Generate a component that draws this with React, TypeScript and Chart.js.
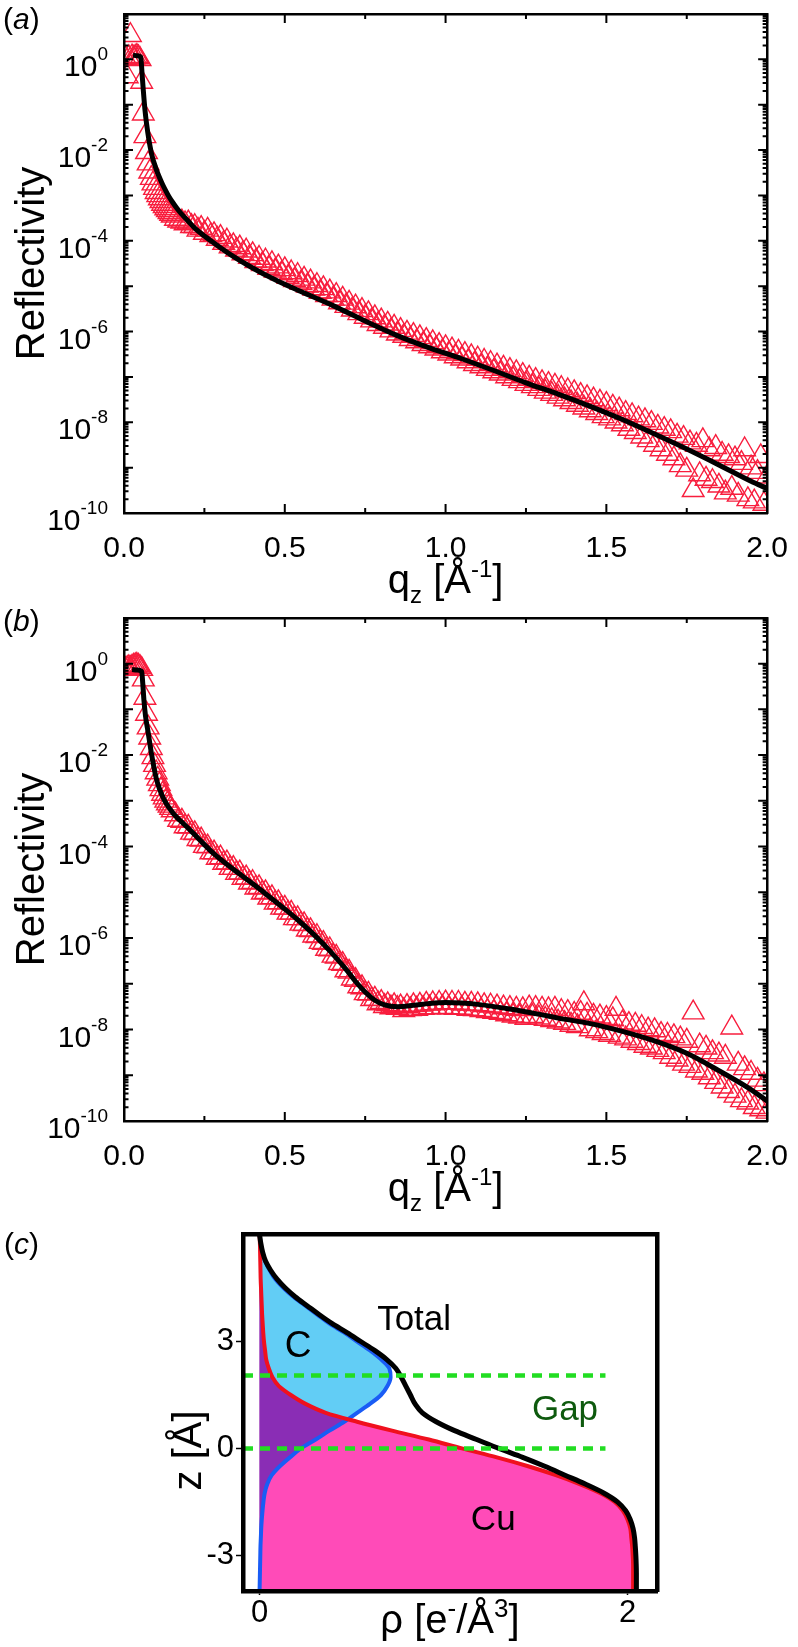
import React, { useEffect, useRef } from 'react';
import { Chart, registerables } from 'chart.js';

Chart.register(...registerables);

const FONT = "'Liberation Sans', Arial, Helvetica, sans-serif";
Chart.defaults.font.family = FONT;
Chart.defaults.color = '#000';

const TRI_COLOR = '#F81E3E';
const PINK = '#FF4BB8';
const CYAN = '#62CDF5';
const PURPLE = '#8A2DB5';
const RED = '#F0101E';
const BLUE = '#1A5CF5';
const GREEN = '#22DD22';
const GAP_GREEN = '#0E5A0E';

// ---------- panels (a) and (b): measured q grid [1/Å] ----------
const qData = [
  0.005, 0.01, 0.015, 0.02, 0.025, 0.03, 0.035, 0.04, 0.045, 0.05,
  0.055, 0.06, 0.065, 0.07, 0.075, 0.08, 0.085, 0.09, 0.095, 0.1,
  0.105, 0.11, 0.115, 0.12, 0.125, 0.13, 0.135, 0.14, 0.145, 0.15,
  0.16, 0.17, 0.18, 0.19, 0.2, 0.21, 0.22, 0.23, 0.24, 0.25,
  0.26, 0.27, 0.28, 0.29, 0.3, 0.31, 0.32, 0.33, 0.34, 0.35,
  0.36, 0.37, 0.38, 0.39, 0.4, 0.41, 0.42, 0.43, 0.44, 0.45,
  0.46, 0.47, 0.48, 0.49, 0.5, 0.51, 0.52, 0.53, 0.54, 0.55,
  0.56, 0.57, 0.58, 0.59, 0.6, 0.61, 0.62, 0.63, 0.64, 0.65,
  0.66, 0.67, 0.68, 0.69, 0.7, 0.71, 0.72, 0.73, 0.74, 0.75,
  0.76, 0.77, 0.78, 0.79, 0.8, 0.81, 0.82, 0.83, 0.84, 0.85,
  0.86, 0.87, 0.88, 0.89, 0.9, 0.91, 0.92, 0.93, 0.94, 0.95,
  0.96, 0.97, 0.98, 0.99, 1.0, 1.01, 1.02, 1.03, 1.04, 1.05,
  1.06, 1.07, 1.08, 1.09, 1.1, 1.11, 1.12, 1.13, 1.14, 1.15,
  1.16, 1.17, 1.18, 1.19, 1.2, 1.21, 1.22, 1.23, 1.24, 1.25,
  1.26, 1.27, 1.28, 1.29, 1.3, 1.31, 1.32, 1.33, 1.34, 1.35,
  1.36, 1.37, 1.38, 1.39, 1.4, 1.41, 1.42, 1.43, 1.44, 1.45,
  1.46, 1.47, 1.48, 1.49, 1.5, 1.51, 1.52, 1.53, 1.54, 1.55,
  1.56, 1.57, 1.58, 1.59, 1.6, 1.61, 1.62, 1.63, 1.64, 1.65,
  1.66, 1.67, 1.68, 1.69, 1.7, 1.71, 1.72, 1.73, 1.74, 1.75,
  1.76, 1.77, 1.78, 1.79, 1.8, 1.81, 1.82, 1.83, 1.84, 1.85,
  1.86, 1.87, 1.88, 1.89, 1.9, 1.91, 1.92, 1.93, 1.94, 1.95,
  1.96, 1.97, 1.98, 1.99, 2.0,
];

const logReflA = [
  0.02, -0.38, 0.04, 0.53, 0.06, 0.03, 0.05, 0.07, 0.04, 0.0,
  -0.5, -1.2, -1.7, -2.05, -2.3, -2.48, -2.62, -2.74, -2.84, -2.93,
  -3.0, -3.07, -3.13, -3.19, -3.24, -3.29, -3.33, -3.37, -3.41, -3.45,
  -3.52, -3.56, -3.58, -3.62, -3.6, -3.68, -3.68, -3.76, -3.72, -3.83,
  -3.76, -3.88, -3.86, -3.96, -3.92, -4.05, -4.0, -4.13, -4.1, -4.2,
  -4.15, -4.28, -4.22, -4.36, -4.3, -4.45, -4.38, -4.52, -4.44, -4.6,
  -4.5, -4.66, -4.57, -4.72, -4.63, -4.8, -4.7, -4.87, -4.76, -4.93,
  -4.84, -4.99, -4.9, -5.06, -4.98, -5.13, -5.05, -5.2, -5.12, -5.28,
  -5.2, -5.36, -5.28, -5.44, -5.37, -5.52, -5.45, -5.6, -5.53, -5.68,
  -5.6, -5.76, -5.69, -5.84, -5.76, -5.9, -5.83, -5.98, -5.9, -6.05,
  -5.97, -6.1, -6.03, -6.17, -6.08, -6.22, -6.13, -6.28, -6.19, -6.33,
  -6.24, -6.38, -6.3, -6.44, -6.35, -6.49, -6.4, -6.55, -6.45, -6.6,
  -6.5, -6.66, -6.55, -6.72, -6.6, -6.77, -6.65, -6.83, -6.7, -6.88,
  -6.75, -6.93, -6.8, -6.99, -6.85, -7.05, -6.9, -7.1, -6.96, -7.16,
  -7.02, -7.21, -7.07, -7.27, -7.12, -7.33, -7.16, -7.38, -7.2, -7.44,
  -7.25, -7.5, -7.3, -7.56, -7.34, -7.62, -7.4, -7.68, -7.45, -7.74,
  -7.5, -7.8, -7.55, -7.87, -7.6, -7.92, -7.66, -7.99, -7.72, -8.05,
  -7.8, -8.15, -7.85, -8.22, -7.92, -8.32, -7.96, -8.4, -8.02, -8.5,
  -8.1, -8.6, -8.15, -8.7, -8.2, -8.8, -8.3, -8.95, -8.35, -9.05,
  -8.45, -9.5, -8.5, -9.15, -8.4, -9.25, -8.6, -9.3, -8.55, -9.4,
  -8.7, -9.55, -8.75, -9.45, -8.8, -9.6, -8.9, -8.6, -9.7, -9.0,
  -9.75, -9.1, -8.75, -9.8, -9.2,
];

// measured reflectivity, panel (b), as log10(R)
const logReflB = [
  -0.12, -0.1, -0.08, -0.1, -0.07, -0.05, -0.04, -0.03, -0.05, -0.08,
  -0.12, -0.35, -0.75, -1.1, -1.4, -1.62, -1.85, -2.05, -2.22, -2.38,
  -2.52, -2.64, -2.75, -2.85, -2.93, -3.0, -3.06, -3.11, -3.16, -3.21,
  -3.3, -3.42, -3.44, -3.56, -3.57, -3.7, -3.71, -3.84, -3.85, -3.99,
  -4.0, -4.13, -4.13, -4.25, -4.24, -4.36, -4.35, -4.47, -4.47, -4.58,
  -4.57, -4.69, -4.68, -4.79, -4.78, -4.9, -4.89, -5.01, -5.0, -5.12,
  -5.11, -5.23, -5.22, -5.34, -5.34, -5.45, -5.45, -5.57, -5.57, -5.69,
  -5.7, -5.82, -5.83, -5.95, -5.96, -6.09, -6.11, -6.24, -6.25, -6.39,
  -6.41, -6.55, -6.57, -6.71, -6.74, -6.89, -6.92, -7.06, -7.08, -7.21,
  -7.22, -7.34, -7.33, -7.43, -7.4, -7.49, -7.45, -7.52, -7.47, -7.53,
  -7.5, -7.58, -7.49, -7.56, -7.47, -7.55, -7.46, -7.53, -7.44, -7.52,
  -7.43, -7.52, -7.42, -7.51, -7.41, -7.52, -7.42, -7.53, -7.42, -7.53,
  -7.44, -7.55, -7.44, -7.56, -7.45, -7.58, -7.47, -7.6, -7.48, -7.62,
  -7.5, -7.64, -7.52, -7.67, -7.53, -7.7, -7.55, -7.72, -7.56, -7.75,
  -7.52, -7.71, -7.53, -7.74, -7.55, -7.77, -7.56, -7.8, -7.55, -7.83,
  -7.6, -7.86, -7.62, -7.9, -7.66, -7.93, -7.64, -7.43, -7.68, -8.0,
  -7.7, -8.04, -7.72, -8.08, -7.75, -8.12, -7.78, -7.55, -8.16, -7.85,
  -8.2, -7.88, -8.25, -7.9, -8.3, -7.95, -8.36, -8.0, -8.4, -8.02,
  -8.45, -8.1, -8.5, -8.12, -8.6, -8.15, -8.66, -8.2, -8.75, -8.25,
  -8.8, -7.63, -8.9, -8.35, -8.95, -8.4, -9.05, -8.5, -9.15, -8.55,
  -9.25, -8.6, -9.35, -7.96, -9.45, -8.75, -9.55, -8.85, -9.6, -8.95,
  -9.7, -9.1, -9.75, -9.2, -9.8,
];

// model fits (black lines), log10(R)
const qFitA = [0.028, 0.04, 0.052, 0.056, 0.06, 0.065, 0.07, 0.078, 0.085, 0.09, 0.095, 0.1, 0.11, 0.12, 0.13, 0.14, 0.15, 0.165, 0.18, 0.2, 0.22, 0.27, 0.33, 0.4, 0.47, 0.55, 0.65, 0.75, 0.85, 0.95, 1.05, 1.15, 1.25, 1.35, 1.45, 1.55, 1.65, 1.75, 1.85, 1.95, 2.0];
const logFitA = [0.09, 0.08, 0.05, -0.3, -0.68, -1.1, -1.41, -1.8, -2.06, -2.2, -2.31, -2.42, -2.6, -2.76, -2.9, -3.03, -3.14, -3.29, -3.42, -3.57, -3.72, -4.0, -4.3, -4.6, -4.86, -5.12, -5.43, -5.77, -6.09, -6.36, -6.6, -6.86, -7.13, -7.38, -7.65, -7.94, -8.26, -8.59, -8.94, -9.3, -9.46];

const qFitB = [0.025, 0.04, 0.055, 0.058, 0.062, 0.067, 0.075, 0.085, 0.1, 0.111, 0.125, 0.14, 0.155, 0.173, 0.2, 0.235, 0.28, 0.337, 0.39, 0.44, 0.49, 0.54, 0.59, 0.64, 0.69, 0.72, 0.75, 0.78, 0.81, 0.85, 0.9, 0.95, 1.0, 1.05, 1.1, 1.2, 1.3, 1.35, 1.45, 1.55, 1.65, 1.75, 1.85, 1.94, 2.0];
const logFitB = [-0.13, -0.14, -0.17, -0.4, -0.8, -1.15, -1.5, -1.95, -2.5, -2.75, -2.98, -3.15, -3.29, -3.42, -3.6, -3.85, -4.16, -4.48, -4.76, -5.03, -5.31, -5.6, -5.92, -6.28, -6.68, -6.95, -7.18, -7.36, -7.46, -7.5, -7.47, -7.43, -7.41, -7.42, -7.45, -7.55, -7.68, -7.75, -7.87, -8.04, -8.25, -8.52, -8.9, -9.27, -9.56];

const xTickLabels = ['0.0', '0.5', '1.0', '1.5', '2.0'];
const yLabelExponents = [0, -2, -4, -6, -8, -10];
const logMantissas = [1, 2, 3, 4, 5, 6, 7, 8, 9];

// ---------- panel (c): electron density profile ----------
const zProfile = [-4, -3.75, -3.5, -3.25, -3, -2.75, -2.5, -2.25, -2, -1.75, -1.5, -1.25, -1, -0.75, -0.5, -0.25, 0, 0.25, 0.5, 0.75, 1, 1.25, 1.5, 1.75, 2, 2.25, 2.5, 2.75, 3, 3.25, 3.5, 3.75, 4, 4.25, 4.5, 4.75, 5, 5.25, 5.5, 5.75, 6];
const rhoCu = [2.03, 2.03, 2.03, 2.03, 2.028, 2.025, 2.02, 2.015, 2.0, 1.975, 1.93, 1.85, 1.74, 1.61, 1.46, 1.29, 1.1, 0.92, 0.72, 0.53, 0.36, 0.25, 0.17, 0.105, 0.07, 0.05, 0.036, 0.03, 0.024, 0.02, 0.017, 0.014, 0.012, 0.01, 0.008, 0.006, 0.005, 0.004, 0.003, 0.002, 0.0];
const rhoC = [0.0, 0.001, 0.002, 0.003, 0.004, 0.005, 0.007, 0.009, 0.012, 0.016, 0.021, 0.028, 0.042, 0.066, 0.11, 0.165, 0.225, 0.305, 0.38, 0.46, 0.53, 0.6, 0.66, 0.695, 0.712, 0.705, 0.66, 0.6, 0.53, 0.46, 0.38, 0.315, 0.25, 0.185, 0.13, 0.085, 0.055, 0.03, 0.015, 0.006, 0.0];
const rhoTotal = [2.048, 2.048, 2.048, 2.047, 2.045, 2.042, 2.038, 2.03, 2.015, 1.99, 1.945, 1.87, 1.77, 1.66, 1.55, 1.43, 1.3, 1.18, 1.06, 0.96, 0.885, 0.845, 0.82, 0.795, 0.77, 0.74, 0.69, 0.625, 0.55, 0.475, 0.395, 0.325, 0.26, 0.195, 0.14, 0.095, 0.06, 0.033, 0.017, 0.007, 0.0];
const zGapLines = [2.05, 0];
const gapRhoRange = [-0.09, 1.88];
const zTicksC = [-3, 0, 3];
const rhoTicksC = [0, 2];
const profileLabels = [
  { text: 'Total', rho: 0.84, z: 3.33, color: '#000', size: 35 },
  { text: 'C', rho: 0.21, z: 2.56, color: '#000', size: 37 },
  { text: 'Gap', rho: 1.66, z: 0.8, color: GAP_GREEN, size: 35 },
  { text: 'Cu', rho: 1.27, z: -2.3, color: '#000', size: 35 },
];

// ---------- helpers ----------
type Run = { t: string; s: number; dy?: number; italic?: boolean };
const fontStr = (r: Run) => `${r.italic ? 'italic ' : ''}${r.s}px ${FONT}`;

function drawRuns(ctx: CanvasRenderingContext2D, runs: Run[], x: number, y: number, align: 'left' | 'center' | 'right') {
  let total = 0;
  const ws = runs.map((r) => {
    ctx.font = fontStr(r);
    const w = ctx.measureText(r.t).width;
    total += w;
    return w;
  });
  let cx = align === 'center' ? x - total / 2 : align === 'right' ? x - total : x;
  ctx.textAlign = 'left';
  ctx.textBaseline = 'alphabetic';
  runs.forEach((r, i) => {
    ctx.font = fontStr(r);
    ctx.fillText(r.t, cx, y + (r.dy || 0));
    cx += ws[i];
  });
}

function reflDecor(letter: string, letterBaseline: number, titleBaseline: number) {
  return {
    id: 'reflDecor',
    afterDraw(chart: any) {
      const { ctx, chartArea: a, scales } = chart;
      const xs = scales.x;
      const ys = scales.y;
      ctx.save();
      ctx.strokeStyle = '#000';
      ctx.lineWidth = 2;
      ctx.beginPath();
      xs.ticks.forEach((t: any) => {
        const px = xs.getPixelForValue(t.value);
        const major = Math.abs(t.value * 2 - Math.round(t.value * 2)) < 1e-6;
        const L = major ? 9 : 5;
        ctx.moveTo(px, a.bottom);
        ctx.lineTo(px, a.bottom - L);
        ctx.moveTo(px, a.top);
        ctx.lineTo(px, a.top + L);
      });
      const eMin = Math.round(Math.log10(ys.min));
      const eMax = Math.round(Math.log10(ys.max));
      for (let e = eMin; e < eMax; e++) {
        logMantissas.forEach((m) => {
          const py = ys.getPixelForValue(m * Math.pow(10, e));
          const L = m === 1 ? 9 : 4.5;
          ctx.moveTo(a.left, py);
          ctx.lineTo(a.left + L, py);
          ctx.moveTo(a.right, py);
          ctx.lineTo(a.right - L, py);
        });
      }
      ctx.stroke();

      ctx.fillStyle = '#000';
      yLabelExponents.forEach((e) => {
        const py = ys.getPixelForValue(Math.pow(10, e));
        drawRuns(ctx, [{ t: '10', s: 30 }, { t: String(e), s: 19, dy: -16 }], 108, py + 17, 'right');
      });

      drawRuns(
        ctx,
        [{ t: 'q', s: 40 }, { t: 'z', s: 24, dy: 10 }, { t: ' [Å', s: 40 }, { t: '-1', s: 24, dy: -16 }, { t: ']', s: 40 }],
        (a.left + a.right) / 2,
        titleBaseline,
        'center'
      );

      drawRuns(ctx, [{ t: '(', s: 30 }, { t: letter, s: 30, italic: true }, { t: ')', s: 30 }], 3, letterBaseline, 'left');
      ctx.restore();
    },
  };
}

function reflConfig(logData: number[], qFit: number[], logFit: number[], letter: string, padTop: number, xAxisHeight: number, letterBaseline: number, titleBaseline: number) {
  const points = qData.map((q, i) => ({ x: q, y: Math.pow(10, logData[i]) }));
  const fit = qFit.map((q, i) => ({ x: q, y: Math.pow(10, logFit[i]) }));
  const border = { display: true, color: '#000', width: 2.5, z: 1 };
  return {
    type: 'line',
    data: {
      datasets: [
        {
          label: 'fit',
          data: fit,
          borderColor: '#000',
          borderWidth: 5,
          pointRadius: 0,
          cubicInterpolationMode: 'monotone',
          fill: false,
          clip: 0,
        },
        {
          label: 'data',
          data: points,
          showLine: false,
          pointStyle: 'triangle',
          pointRadius: 12.5,
          pointBorderWidth: 1.4,
          pointBorderColor: TRI_COLOR,
          pointBackgroundColor: 'rgba(255,255,255,0)',
          borderColor: TRI_COLOR,
          fill: false,
          clip: 0,
        },
      ],
    },
    options: {
      animation: false,
      responsive: false,
      maintainAspectRatio: false,
      events: [],
      layout: { padding: { left: 0, right: 26, top: padTop, bottom: 0 } },
      plugins: { legend: { display: false }, tooltip: { enabled: false } },
      scales: {
        x: {
          type: 'linear',
          position: 'bottom',
          min: 0,
          max: 2,
          grid: { display: false },
          border,
          ticks: {
            stepSize: 0.25,
            autoSkip: false,
            maxRotation: 0,
            padding: 10,
            color: '#000',
            font: { family: FONT, size: 30 },
            callback: (v: number) => {
              const k = Math.round(v * 2);
              return Math.abs(v * 2 - k) < 1e-6 ? xTickLabels[k] : '';
            },
          },
          afterFit: (s: any) => {
            s.height = xAxisHeight;
          },
        },
        y: {
          type: 'logarithmic',
          position: 'left',
          min: 1e-10,
          max: 10,
          grid: { display: false },
          border,
          ticks: { display: false },
          title: {
            display: true,
            text: 'Reflectivity',
            color: '#000',
            font: { family: FONT, size: 40 },
            padding: { top: 9, bottom: 0 },
          },
          afterFit: (s: any) => {
            s.width = 124;
          },
        },
        x2: {
          type: 'linear',
          position: 'top',
          min: 0,
          max: 2,
          display: true,
          grid: { display: false },
          border,
          ticks: { display: false },
          afterFit: (s: any) => {
            s.height = 0;
          },
        },
        y2: {
          type: 'logarithmic',
          position: 'right',
          min: 1e-10,
          max: 10,
          display: true,
          grid: { display: false },
          border,
          ticks: { display: false },
          afterFit: (s: any) => {
            s.width = 0;
          },
        },
      },
    },
    plugins: [reflDecor(letter, letterBaseline, titleBaseline)],
  };
}

const profileDecor = {
  id: 'profileDecor',
  afterDraw(chart: any) {
    const { ctx, chartArea: a, scales } = chart;
    const xs = scales.x;
    const ys = scales.y;
    ctx.save();
    profileLabels.forEach((l) => {
      ctx.fillStyle = l.color;
      ctx.font = `${l.size}px ${FONT}`;
      ctx.textAlign = 'center';
      ctx.textBaseline = 'alphabetic';
      ctx.fillText(l.text, xs.getPixelForValue(l.rho), ys.getPixelForValue(l.z));
    });
    ctx.fillStyle = '#000';
    ctx.save();
    ctx.translate(201, ys.getPixelForValue(0) + 2);
    ctx.rotate(-Math.PI / 2);
    ctx.font = `40px ${FONT}`;
    ctx.textAlign = 'center';
    ctx.textBaseline = 'alphabetic';
    ctx.fillText('z [Å]', 0, 0);
    ctx.restore();
    drawRuns(
      ctx,
      [{ t: 'ρ [e', s: 40 }, { t: '-', s: 26, dy: -16 }, { t: '/Å', s: 40 }, { t: '3', s: 26, dy: -16 }, { t: ']', s: 40 }],
      (a.left + a.right) / 2,
      419,
      'center'
    );
    drawRuns(ctx, [{ t: '(', s: 30 }, { t: 'c', s: 30, italic: true }, { t: ')', s: 30 }], 4, 40, 'left');
    ctx.restore();
  },
};

function profileConfig() {
  const toPts = (arr: number[]) => zProfile.map((z, i) => ({ x: arr[i], y: z }));
  const overlap = zProfile.map((z, i) => ({ x: Math.min(rhoCu[i], rhoC[i]), y: z }));
  const dash = (z: number) => [
    { x: gapRhoRange[0], y: z },
    { x: gapRhoRange[1], y: z },
  ];
  const border = { display: true, color: '#000', width: 4.5, z: 1 };
  const tickFont = { family: FONT, size: 31 };
  return {
    type: 'line',
    data: {
      datasets: [
        { label: 'gap-top', data: dash(zGapLines[0]), borderColor: GREEN, borderWidth: 4.5, borderDash: [10, 7], borderCapStyle: 'butt', pointRadius: 0, fill: false, tension: 0 },
        { label: 'gap-bottom', data: dash(zGapLines[1]), borderColor: GREEN, borderWidth: 4.5, borderDash: [10, 7], borderCapStyle: 'butt', pointRadius: 0, fill: false, tension: 0 },
        { label: 'Total', data: toPts(rhoTotal), borderColor: '#000', borderWidth: 5, pointRadius: 0, fill: false, cubicInterpolationMode: 'monotone' },
        { label: 'overlap', data: overlap, borderColor: 'rgba(0,0,0,0)', borderWidth: 0, backgroundColor: PURPLE, pointRadius: 0, fill: 'origin', cubicInterpolationMode: 'monotone' },
        { label: 'Cu', data: toPts(rhoCu), borderColor: RED, borderWidth: 4, backgroundColor: PINK, pointRadius: 0, fill: 'origin', cubicInterpolationMode: 'monotone' },
        { label: 'C', data: toPts(rhoC), borderColor: BLUE, borderWidth: 4, backgroundColor: CYAN, pointRadius: 0, fill: 'origin', cubicInterpolationMode: 'monotone' },
      ],
    },
    options: {
      indexAxis: 'y',
      animation: false,
      responsive: false,
      maintainAspectRatio: false,
      events: [],
      layout: { padding: { left: 0, right: 141, top: 17, bottom: 0 } },
      plugins: {
        legend: { display: false },
        tooltip: { enabled: false },
        filler: { drawTime: 'beforeDatasetsDraw', propagate: false },
      },
      scales: {
        x: {
          type: 'linear',
          position: 'bottom',
          min: -0.09,
          max: 2.16,
          afterBuildTicks: (s: any) => {
            s.ticks = rhoTicksC.map((v) => ({ value: v }));
          },
          ticks: { autoSkip: false, maxRotation: 0, padding: 0, color: '#000', font: tickFont },
          grid: { display: true, drawOnChartArea: false, drawTicks: true, tickLength: 4, tickWidth: 1.5, tickColor: '#000' },
          border,
          afterFit: (s: any) => {
            s.height = 56;
          },
        },
        y: {
          type: 'linear',
          position: 'left',
          min: -4,
          max: 6,
          afterBuildTicks: (s: any) => {
            s.ticks = zTicksC.map((v) => ({ value: v }));
          },
          ticks: { autoSkip: false, padding: 2, color: '#000', font: tickFont },
          grid: { display: true, drawOnChartArea: false, drawTicks: true, tickLength: 7, tickWidth: 1.5, tickColor: '#000' },
          border,
          afterFit: (s: any) => {
            s.width = 243;
          },
        },
        x2: {
          type: 'linear',
          position: 'top',
          min: -0.09,
          max: 2.16,
          display: true,
          grid: { display: false },
          ticks: { display: false },
          border,
          afterFit: (s: any) => {
            s.height = 0;
          },
        },
        y2: {
          type: 'linear',
          position: 'right',
          min: -4,
          max: 6,
          display: true,
          grid: { display: false },
          ticks: { display: false },
          border,
          afterFit: (s: any) => {
            s.width = 0;
          },
        },
      },
    },
    plugins: [profileDecor],
  };
}

function ChartCanvas({ makeConfig, top, height }: { makeConfig: () => any; top: number; height: number }) {
  const ref = useRef<HTMLCanvasElement | null>(null);
  useEffect(() => {
    if (!ref.current) return;
    const chart = new Chart(ref.current, makeConfig());
    return () => chart.destroy();
  }, []);
  return (
    <canvas
      ref={ref}
      width={798}
      height={height}
      style={{ position: 'absolute', left: 0, top, width: 798, height, display: 'block' }}
    />
  );
}

export default function App() {
  return (
    <div style={{ position: 'absolute', left: 0, top: 0, width: 798, height: 1647, background: '#fff', overflow: 'hidden' }}>
      <ChartCanvas top={0} height={604} makeConfig={() => reflConfig(logReflA, qFitA, logFitA, 'a', 7, 91, 29, 593)} />
      <ChartCanvas top={604} height={610} makeConfig={() => reflConfig(logReflB, qFitB, logFitB, 'b', 11, 93, 27, 597)} />
      <ChartCanvas top={1214} height={433} makeConfig={profileConfig} />
    </div>
  );
}
